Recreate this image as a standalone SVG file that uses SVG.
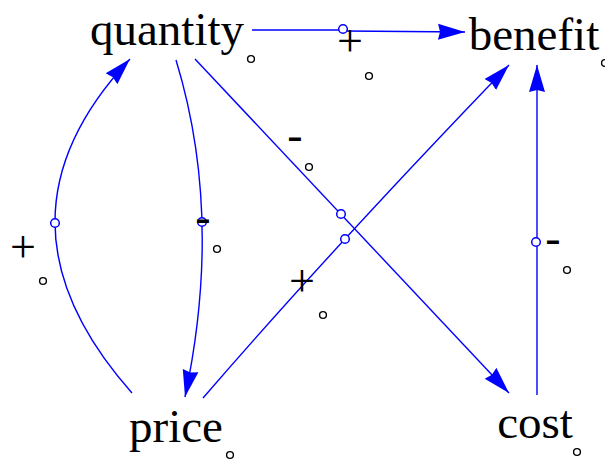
<svg xmlns="http://www.w3.org/2000/svg" width="605" height="461" viewBox="0 0 605 461">
<defs>
<style>
.lbl{font-family:"Liberation Serif","Times New Roman",serif;font-size:47px;fill:#000;text-anchor:middle}
.pol{font-family:"Liberation Serif","Times New Roman",serif;font-size:46px;fill:#000;text-anchor:middle}
.link{fill:none;stroke:#0000ff;stroke-width:1.4}
.hub{fill:#fff;stroke:#0000ff;stroke-width:1.5}
.dot{fill:#fff;stroke:#000;stroke-width:1.4}
</style>
<marker id="ah" markerUnits="userSpaceOnUse" markerWidth="28" markerHeight="18" refX="27" refY="9" orient="auto">
<path d="M0,1 L27,9 L0,17 L2,9 z" fill="#0000ff"/>
</marker>
</defs>
<rect width="605" height="461" fill="#fff"/>
<g id="connectors">
<path class="link" d="M252,30 L341,30 M345,31 L465,32" marker-end="url(#ah)"/>
<path class="link" d="M132,393 Q-21,220 130,59" marker-end="url(#ah)"/>
<path class="link" d="M176,60 Q223.5,215.5 185,397" marker-end="url(#ah)"/>
<path class="link" d="M195,59 Q330,202 509,393" marker-end="url(#ah)"/>
<path class="link" d="M203,398 Q334,246.5 509,65" marker-end="url(#ah)"/>
<path class="link" d="M537,395 L537,65" marker-end="url(#ah)"/>
<circle class="hub" cx="343" cy="29" r="4.3"/>
<circle class="hub" cx="55" cy="223" r="4.3"/>
<circle class="hub" cx="202" cy="222" r="4.3"/>
<circle class="hub" cx="341" cy="214" r="4.3"/>
<circle class="hub" cx="345" cy="239" r="4.3"/>
<circle class="hub" cx="536" cy="242" r="4.3"/>
<text class="pol" x="350" y="56">+</text>
<text class="pol" x="23" y="262">+</text>
<text class="pol" x="203" y="232">-</text>
<text class="pol" x="295" y="150">-</text>
<text class="pol" x="302" y="296">+</text>
<text class="pol" x="553" y="253">-</text>
<circle class="dot" cx="369" cy="76" r="3.4"/>
<circle class="dot" cx="43" cy="281" r="3.4"/>
<circle class="dot" cx="217" cy="249" r="3.4"/>
<circle class="dot" cx="309" cy="167" r="3.4"/>
<circle class="dot" cx="323" cy="315" r="3.4"/>
<circle class="dot" cx="567" cy="270" r="3.4"/>
</g>
<g id="quantity">
<text class="lbl" x="167" y="45">quantity</text>
<circle class="dot" cx="251" cy="59" r="3.4"/>
</g>
<g id="benefit">
<text class="lbl" x="534" y="50">benefit</text>
<circle class="dot" cx="605" cy="63" r="3.4"/>
</g>
<g id="price">
<text class="lbl" x="176" y="442">price</text>
<circle class="dot" cx="230" cy="455" r="3.4"/>
</g>
<g id="cost">
<text class="lbl" x="535" y="438">cost</text>
<circle class="dot" cx="577" cy="452" r="3.4"/>
</g>
</svg>
